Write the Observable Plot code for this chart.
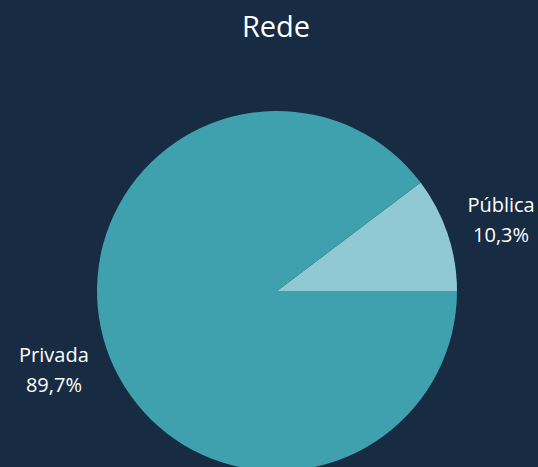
<!DOCTYPE html>
<html>
<head>
<meta charset="utf-8">
<script src="https://cdn.jsdelivr.net/npm/d3@7"></script>
<script src="https://cdn.jsdelivr.net/npm/@observablehq/plot@0.6"></script>
<style>
  html, body { margin: 0; padding: 0; background: #172c42; width: 538px; height: 467px; overflow: hidden; }
  #title { height: 60px; line-height: 52px; text-align: center; padding-left: 14px; box-sizing: border-box; color: #ffffff; font-family: "Open Sans", "Noto Sans", sans-serif; font-size: 29px; }
</style>
</head>
<body>
<div id="title">Rede</div>
<div id="chart"></div>
<script>
const categories = ["Pública", "Privada"];
const values = [10.3, 89.7];
const valueLabels = ["10,3%", "89,7%"];
const colors = ["#90c9d4", "#3fa0ae"];

const W = 538, H = 407;
const cx = 277, cy = 231, R = 180;

const pie = d3.pie().sort(null).value(d => d.value)
  .startAngle(Math.PI / 2).endAngle(Math.PI / 2 - 2 * Math.PI);
const data = categories.map((c, i) => ({category: c, value: values[i], label: valueLabels[i], color: colors[i]}));
const arcs = pie(data);
// label positions along the slice mid-angle (compass angle: 0 = up, clockwise)
const labelR = 1.31;
const labels = arcs.map(a => {
  const m = (a.startAngle + a.endAngle) / 2;
  return {text: a.data.category + "\n" + a.data.label, x: labelR * Math.sin(m), y: labelR * Math.cos(m)};
});

const slices = (index, scales) => {
  const x0 = scales.x(0), y0 = scales.y(0);
  const r = scales.x(1) - scales.x(0);
  const arc = d3.arc().innerRadius(0).outerRadius(r);
  const g = d3.create("svg:g");
  g.selectAll("path").data(arcs).join("path")
    .attr("transform", `translate(${x0},${y0})`)
    .attr("d", arc)
    .attr("fill", d => d.data.color)
    .attr("stroke", "none");
  return g.node();
};

const chart = Plot.plot({
  width: W,
  height: H,
  margin: 0,
  x: {domain: [-cx / R, (W - cx) / R], range: [0, W], axis: null},
  y: {domain: [-(H - cy) / R, cy / R], range: [H, 0], axis: null},
  style: {background: "transparent", fontFamily: "'Open Sans', 'Noto Sans', sans-serif"},
  marks: [
    slices,
    Plot.text(labels, {x: "x", y: "y", text: "text", fill: "#ffffff", fontSize: 20, lineHeight: 1.5, dy: 1})
  ]
});
document.getElementById("chart").appendChild(chart);
</script>
</body>
</html>
